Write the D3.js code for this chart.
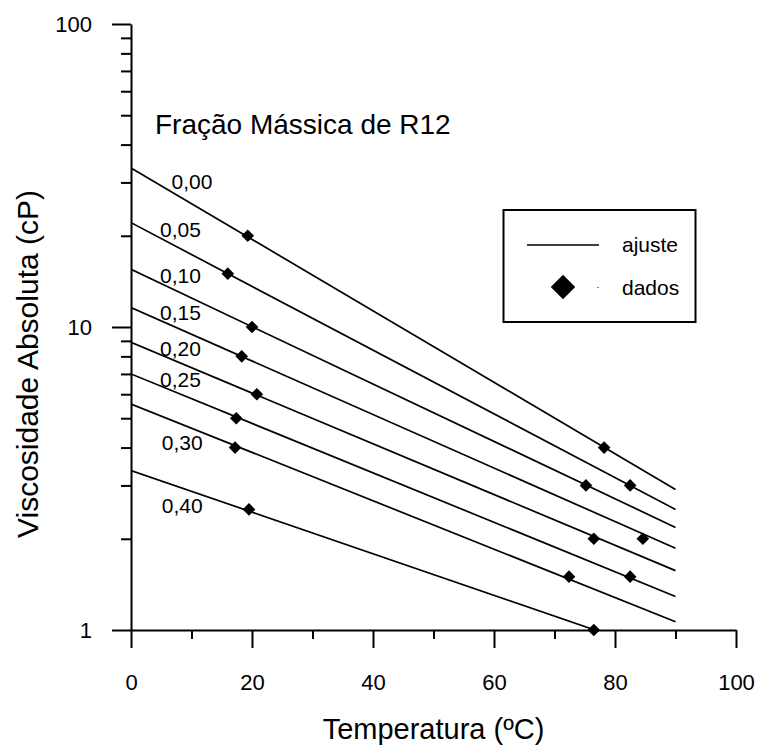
<!DOCTYPE html>
<html>
<head>
<meta charset="utf-8">
<script src="https://cdn.jsdelivr.net/npm/d3@7"></script>
<style>
    body { margin: 0; background: #fff; }
    text { font-family: "Liberation Sans", Arial, sans-serif; fill: #000; }
</style>
</head>
<body>
<div id="chart"></div>
<script>
// mass fraction of R12 for each curve
const fractions = ["0,00", "0,05", "0,10", "0,15", "0,20", "0,25", "0,30", "0,40"];

// fitted line, viscosity (cP) at T = 0 and T = 90 ºC
const fitT = [0, 90];
const fitStart = [33.5, 22.1, 15.5, 11.6, 8.9, 7.0, 5.57, 3.36];
const fitEnd = [2.91, 2.50, 2.18, 1.86, 1.57, 1.29, 1.065, 0.81];

// measured points (temperature ºC, viscosity cP), two per curve
const dataT = [[19.3, 78.2], [16.0, 82.5], [20.0, 75.2], [18.3, 84.6], [20.8, 76.5], [17.4, 82.5], [17.2, 72.4], [19.5, 76.5]];
const dataV = [[20, 4], [15, 3], [10, 3], [8, 2], [6, 2], [5, 1.5], [4, 1.5], [2.5, 1]];

// where the curve labels sit (data coords)
const labelT = [6.7, 4.8, 4.8, 4.8, 4.8, 4.8, 5.1, 5.1];
const labelV = [30.2, 20.9, 14.8, 11.2, 8.5, 6.7, 4.15, 2.57];

const xTicks = [0, 20, 40, 60, 80, 100];
const xMinor = [10, 30, 50, 70, 90];
const yTicks = [1, 10, 100];
const yMinor = [2, 3, 4, 5, 6, 7, 8, 9, 20, 30, 40, 50, 60, 70, 80, 90];

const width = 759;
const height = 745;
const mLeft = 131, mRight = 736, mTop = 24, mBottom = 630;

const svg = d3.select("#chart")
    .append("svg")
    .attr("width", width).attr("height", height);

const x = d3.scaleLinear().domain([0, 100]).range([mLeft, mRight]);
const y = d3.scaleLog().domain([1, 100]).range([mBottom, mTop]);

svg.append("clipPath").attr("id", "plot")
    .append("rect")
    .attr("x", mLeft).attr("y", mTop)
    .attr("width", mRight - mLeft).attr("height", mBottom - mTop);

// fitted lines
const line = d3.line().x(d => x(d[0])).y(d => y(d[1]));
svg.append("g")
    .attr("clip-path", "url(#plot)")
    .selectAll("path")
    .data(fractions.map((f, i) => [[fitT[0], fitStart[i]], [fitT[1], fitEnd[i]]]))
    .enter().append("path")
    .attr("d", line)
    .attr("fill", "none")
    .attr("stroke", "#000")
    .attr("stroke-width", 1.7);

// data points
const diamond = d3.symbol().type(d3.symbolSquare).size(80);
const pts = [];
dataT.forEach((ts, i) => ts.forEach((t, j) => pts.push([t, dataV[i][j]])));
svg.append("g")
    .selectAll("path")
    .data(pts)
    .enter().append("path")
    .attr("d", diamond)
    .attr("transform", d => `translate(${x(d[0])},${y(d[1])}) rotate(45)`)
    .attr("fill", "#000");

// curve labels
svg.append("g")
    .selectAll("text")
    .data(fractions)
    .enter().append("text")
    .attr("x", (d, i) => x(labelT[i]))
    .attr("y", (d, i) => y(labelV[i]) + 7.5)
    .attr("font-size", 21)
    .text(d => d);

// axes
svg.append("g")
    .attr("transform", `translate(0,${mBottom})`)
    .call(d3.axisBottom(x).tickValues(xTicks).tickSize(18).tickSizeOuter(0).tickPadding(26).tickFormat(d3.format("d")));
svg.append("g")
    .attr("transform", `translate(0,${mBottom})`)
    .call(d3.axisBottom(x).tickValues(xMinor).tickSize(9).tickSizeOuter(0).tickFormat(""))
    .select(".domain").remove();

svg.append("g")
    .attr("transform", `translate(${mLeft},0)`)
    .call(d3.axisLeft(y).tickValues(yTicks).tickSize(19).tickSizeOuter(0).tickPadding(20).tickFormat(d3.format("d")));
svg.append("g")
    .attr("transform", `translate(${mLeft},0)`)
    .call(d3.axisLeft(y).tickValues(yMinor).tickSize(10).tickSizeOuter(0).tickFormat(""))
    .select(".domain").remove();

svg.selectAll(".domain, .tick line")
    .attr("stroke", "#000")
    .attr("stroke-width", 2);
svg.selectAll(".tick text")
    .attr("font-size", 22)
    .attr("font-family", "Liberation Sans, Arial, sans-serif");

// titles
svg.append("text")
    .attr("x", (mLeft + mRight) / 2).attr("y", 739)
    .attr("text-anchor", "middle")
    .attr("font-size", 29)
    .text("Temperatura (ºC)");

svg.append("text")
    .attr("transform", "translate(38,364) rotate(-90)")
    .attr("text-anchor", "middle")
    .attr("font-size", 30)
    .text("Viscosidade Absoluta (cP)");

svg.append("text")
    .attr("x", 155).attr("y", 134)
    .attr("font-size", 28)
    .text("Fração Mássica de R12");

// legend
const lg = svg.append("g");
lg.append("rect")
    .attr("x", 503.5).attr("y", 210)
    .attr("width", 192).attr("height", 112)
    .attr("fill", "none").attr("stroke", "#000").attr("stroke-width", 2);
lg.append("line")
    .attr("x1", 527).attr("x2", 599).attr("y1", 245).attr("y2", 245)
    .attr("stroke", "#000").attr("stroke-width", 1.7);
lg.append("path")
    .attr("d", d3.symbol().type(d3.symbolSquare).size(300))
    .attr("transform", "translate(563,287) rotate(45)")
    .attr("fill", "#000");
lg.append("rect")
    .attr("x", 597.5).attr("y", 287).attr("width", 1).attr("height", 1)
    .attr("fill", "#000");
lg.append("text").attr("x", 622).attr("y", 252).attr("font-size", 21).text("ajuste");
lg.append("text").attr("x", 622).attr("y", 295).attr("font-size", 21).text("dados");
</script>
</body>
</html>
